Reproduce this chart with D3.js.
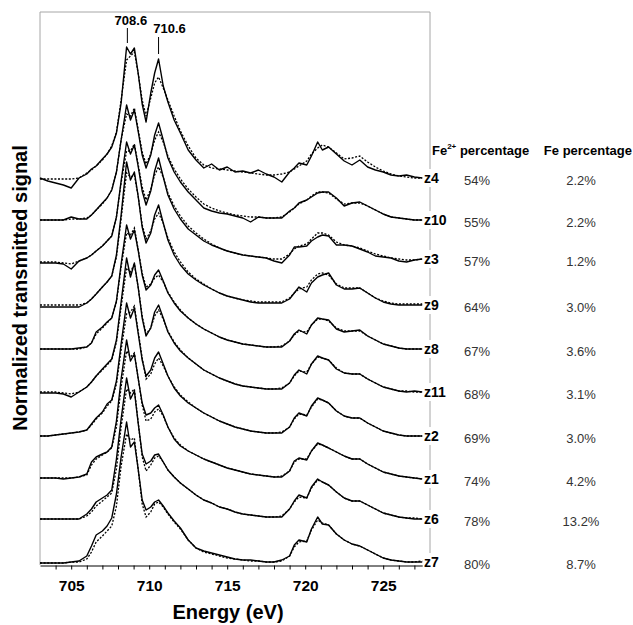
<!DOCTYPE html>
<html>
<head>
<meta charset="utf-8">
<script src="https://cdn.jsdelivr.net/npm/d3@7"></script>
<style>
  body { margin: 0; background: #fff; }
  svg { display: block; font-family: Arial, "Liberation Sans", sans-serif; }
</style>
</head>
<body>
<div class="chart"></div>
<script>
// energy grid (eV)
const energy = [
  703, 703.5, 704, 704.5, 705, 705.5, 706, 706.3, 706.6, 707, 707.3, 707.6, 707.9, 708.2, 708.55,
  708.8, 709.05, 709.3, 709.55, 709.8, 710.1, 710.35, 710.6, 710.9, 711.2, 711.6, 712, 712.5, 713, 713.5,
  714, 714.5, 715, 715.5, 716, 716.5, 717, 717.5, 718, 718.5, 719, 719.3, 719.6, 720.1, 720.4,
  720.8, 721.1, 721.5, 722, 722.5, 723, 723.5, 724, 724.5, 725, 725.5, 726, 726.5, 727, 727.5
];

// spectra: signal above each spectrum's baseline (x0.01 a.u.), measured (solid) and fit (dotted)
const z4Data = [0, -3, -5, -7, -10, 0, 4, 9, 12, 19, 24, 31, 45, 75, 131,
  124, 130, 104, 74, 56, 85, 105, 119, 92, 76, 58, 45, 28, 18, 10,
  14, 8, 11, 6, 7, 5, 8, 4, 1, -4, 6, 10, 15, 13, 22,
  36, 28, 31, 24, 17, 13, 18, 11, 8, 6, 3, 2, 3, 1, 0];
const z4Fit = [-1, -1, -1, -1, -1, 0, 5, 8, 12, 18, 24, 32, 46, 78, 118,
  122, 126, 104, 78, 62, 80, 95, 101, 90, 78, 62, 47, 32, 20, 13,
  10, 9, 8, 7, 6, 5, 4, 3, 3, 4, 6, 9, 12, 17, 24,
  30, 33, 31, 25, 19, 20, 22, 16, 11, 7, 4, 2, 1, 0, 0];

const z10Data = [0, 0, 0, 0, 3, 1, 1, 5, 10, 17, 22, 30, 48, 80, 115,
  100, 110, 88, 65, 52, 65, 85, 97, 80, 62, 48, 38, 28, 20, 12,
  9, 7, 6, 4, 2, -2, 3, 2, 2, 2, 9, 12, 17, 20, 23,
  27, 28, 28, 22, 14, 17, 18, 14, 10, 6, 3, 2, 1, 0, 0];
const z10Fit = [0, 0, 0, 0, 1, 1, 2, 5, 10, 16, 22, 30, 48, 80, 106,
  104, 112, 90, 68, 56, 66, 80, 88, 78, 64, 51, 41, 31, 23, 16,
  12, 9, 7, 5, 4, 3, 3, 2, 2, 3, 8, 12, 16, 20, 24,
  28, 28, 27, 21, 16, 17, 17, 14, 10, 6, 3, 2, 1, 0, 0];

const z3Data = [-4, -4, -4, -5, -10, -2, 1, 4, 8, 13, 18, 23, 42, 78, 117,
  105, 114, 92, 68, 54, 68, 88, 101, 82, 64, 50, 40, 30, 24, 18,
  14, 11, 8, 6, 4, 3, 2, 1, -2, -4, 4, 12, 12, 13, 18,
  22, 24, 23, 14, 14, 13, 10, 7, 3, 2, 1, -2, -3, -1, 0];
const z3Fit = [-3, -3, -3, -4, -5, -2, 1, 4, 8, 13, 18, 23, 42, 76, 108,
  108, 115, 94, 72, 59, 70, 84, 92, 82, 66, 53, 43, 33, 26, 20,
  15, 11, 8, 6, 4, 3, 2, 1, 0, 0, 5, 10, 13, 15, 20,
  26, 26, 24, 17, 14, 13, 11, 8, 5, 3, 1, 0, -1, -1, 0];

const z9Data = [-2, -2, -2, -2, -2, -2, 2, 6, 11, 18, 23, 29, 50, 90, 143,
  125, 133, 108, 78, 62, 72, 90, 100, 82, 65, 50, 40, 31, 25, 20,
  16, 12, 9, 7, 5, 3, 2, 2, 2, 2, 6, 12, 18, 13, 22,
  28, 30, 32, 20, 16, 16, 17, 12, 7, 3, 1, 0, 0, 0, 0];
const z9Fit = [0, 0, 0, 0, 0, 0, 2, 6, 11, 18, 23, 29, 48, 86, 132,
  128, 130, 108, 80, 66, 74, 86, 92, 82, 67, 53, 43, 33, 26, 21,
  16, 12, 9, 7, 5, 4, 3, 3, 3, 3, 7, 12, 16, 18, 25,
  31, 32, 30, 21, 17, 17, 17, 12, 7, 4, 2, 1, 1, 1, 1];

const z8Data = [0, 0, 0, 0, 0, 1, 2, 6, 17, 22, 27, 31, 48, 85, 124,
  110, 119, 98, 74, 59, 64, 74, 79, 68, 56, 46, 38, 31, 25, 20,
  16, 12, 9, 7, 5, 4, 3, 2, 2, 2, 8, 15, 19, 15, 24,
  31, 30, 29, 20, 17, 18, 19, 13, 9, 5, 3, 1, 0, 0, 0];
const z8Fit = [0, 0, 0, 0, 0, 0, 2, 6, 15, 21, 26, 31, 47, 82, 116,
  114, 121, 99, 76, 62, 65, 71, 74, 67, 57, 47, 39, 31, 25, 20,
  16, 12, 9, 7, 5, 4, 3, 2, 2, 3, 8, 14, 18, 17, 24,
  30, 30, 28, 21, 18, 18, 18, 13, 9, 5, 3, 1, 0, 0, 0];

const z11Data = [-1, -1, -1, -2, -5, 0, 5, 10, 16, 23, 28, 33, 52, 90, 134,
  115, 129, 104, 74, 56, 64, 80, 87, 74, 60, 49, 41, 34, 28, 22,
  18, 14, 11, 8, 6, 5, 4, 3, 3, 3, 9, 17, 22, 18, 28,
  36, 34, 32, 23, 19, 18, 18, 13, 9, 5, 3, 1, 0, 1, 0];
const z11Fit = [0, 0, 0, -1, -2, 0, 5, 10, 16, 22, 27, 32, 50, 85, 124,
  120, 128, 104, 76, 58, 64, 76, 82, 73, 61, 50, 42, 34, 28, 22,
  18, 14, 11, 8, 6, 5, 4, 3, 3, 4, 9, 16, 21, 20, 28,
  35, 34, 32, 24, 19, 18, 18, 13, 9, 5, 3, 1, 1, 0, 0];

const z2Data = [0, 0, 1, 2, 3, 4, 6, 12, 18, 24, 32, 36, 55, 92, 133,
  118, 128, 102, 76, 60, 66, 78, 84, 72, 60, 48, 40, 33, 28, 23,
  19, 15, 12, 9, 7, 5, 4, 3, 3, 3, 9, 18, 23, 20, 30,
  38, 36, 33, 25, 20, 18, 18, 13, 9, 5, 3, 1, 0, 0, 0];
const z2Fit = [0, 0, 1, 2, 3, 4, 6, 11, 17, 23, 30, 35, 52, 86, 122,
  124, 130, 104, 78, 57, 62, 72, 78, 70, 60, 49, 41, 34, 28, 23,
  19, 15, 12, 9, 7, 5, 4, 3, 3, 4, 9, 17, 22, 21, 29,
  37, 36, 33, 25, 20, 18, 18, 13, 9, 5, 3, 1, 0, 0, 0];

const z1Data = [1, 1, 1, 0, 1, 2, 5, 17, 22, 25, 27, 32, 58, 100, 139,
  118, 125, 100, 76, 64, 66, 71, 74, 64, 52, 40, 33, 28, 24, 20,
  17, 14, 11, 9, 7, 5, 4, 3, 2, 2, 8, 18, 21, 19, 28,
  36, 34, 31, 27, 23, 20, 20, 15, 11, 7, 5, 3, 2, 1, 0];
const z1Fit = [1, 1, 1, 1, 1, 2, 4, 14, 20, 24, 27, 31, 52, 92, 128,
  122, 126, 100, 74, 58, 60, 67, 70, 63, 52, 41, 34, 28, 24, 20,
  17, 14, 11, 9, 7, 5, 4, 3, 2, 3, 8, 17, 20, 20, 28,
  35, 34, 31, 27, 23, 20, 20, 15, 11, 7, 5, 3, 2, 1, 0];

const z6Data = [0, 0, 0, 0, 0, 0, 5, 10, 17, 21, 24, 29, 60, 100, 141,
  120, 128, 95, 65, 55, 58, 64, 65, 57, 49, 42, 36, 30, 24, 19,
  16, 12, 10, 7, 5, 4, 3, 2, 2, 2, 10, 18, 24, 21, 32,
  40, 37, 34, 27, 21, 18, 18, 14, 10, 6, 4, 2, 1, 0, 0];
const z6Fit = [0, 0, 0, 0, 0, 0, 3, 7, 13, 18, 22, 26, 50, 92, 130,
  126, 130, 96, 62, 48, 54, 61, 63, 57, 49, 42, 36, 30, 24, 19,
  16, 12, 10, 7, 5, 4, 3, 2, 2, 3, 10, 17, 22, 21, 31,
  39, 37, 34, 27, 21, 18, 18, 14, 10, 6, 4, 2, 1, 1, 0];

const z7Data = [-1, -1, -1, -1, 0, 1, 6, 16, 27, 31, 36, 44, 68, 105, 140,
  115, 120, 92, 62, 52, 55, 60, 62, 56, 49, 41, 34, 22, 14, 11,
  9, 7, 5, 3, 2, 2, 1, 0, 0, 2, 6, 17, 22, 20, 33,
  45, 38, 37, 28, 22, 18, 16, 12, 8, 4, 2, 1, 0, 0, 0];
const z7Fit = [-1, -1, -1, -1, 0, 0, 3, 10, 20, 26, 31, 36, 56, 96, 128,
  122, 124, 92, 58, 45, 50, 58, 60, 55, 48, 40, 33, 22, 14, 10,
  8, 6, 4, 3, 2, 1, 1, 0, 0, 1, 6, 15, 20, 21, 32,
  42, 39, 37, 28, 22, 18, 16, 12, 8, 4, 2, 1, 0, 0, 1];

const sampleNames = ['z4', 'z10', 'z3', 'z9', 'z8', 'z11', 'z2', 'z1', 'z6', 'z7'];
const sampleOffsets = [387, 345, 306, 260, 216, 173, 129, 86, 46, 3];
const fe2Percent = ['54%', '55%', '57%', '64%', '67%', '68%', '69%', '74%', '78%', '80%'];
const fePercent = ['2.2%', '2.2%', '1.2%', '3.0%', '3.6%', '3.1%', '3.0%', '4.2%', '13.2%', '8.7%'];
const measured = [z4Data, z10Data, z3Data, z9Data, z8Data, z11Data, z2Data, z1Data, z6Data, z7Data];
const fitted = [z4Fit, z10Fit, z3Fit, z9Fit, z8Fit, z11Fit, z2Fit, z1Fit, z6Fit, z7Fit];

const peakEnergies = [708.6, 710.6];
const tickValues = d3.range(704, 728);

const W = 633, H = 625;
const x = d3.scaleLinear().domain([703, 728]).range([40, 430]);
const y = d3.scaleLinear().domain([0, 553]).range([565, 12]);
const xAxisScale = d3.scaleLinear().domain([703, 727.5]).range([x(703), x(727.5)]);

const svg = d3.select('div.chart')
  .append('svg')
  .attr('width', W)
  .attr('height', H);

// grey plot frame
svg.append('path')
  .attr('d', `M${x(703)},${y(0)} V${y(553)} H${x(728)} V${y(3)}`)
  .attr('fill', 'none')
  .attr('stroke', '#a6a6a6')
  .attr('stroke-width', 1);

const spectra = sampleNames.map((name, i) => ({
  name,
  offset: sampleOffsets[i],
  data: measured[i],
  fit: fitted[i],
  fe2: fe2Percent[i],
  fe: fePercent[i]
}));

const lineFor = offset => d3.line()
  .x((d, i) => x(energy[i]))
  .y(d => y(offset + d));

const groups = svg.selectAll('g.spectrum')
  .data(spectra)
  .enter()
  .append('g')
  .attr('class', 'spectrum');

groups.append('path')
  .attr('d', s => lineFor(s.offset)(s.fit))
  .attr('fill', 'none')
  .attr('stroke', '#000')
  .attr('stroke-width', 1.3)
  .attr('stroke-dasharray', '2,1.6');

groups.append('path')
  .attr('d', s => lineFor(s.offset)(s.data))
  .attr('fill', 'none')
  .attr('stroke', '#000')
  .attr('stroke-width', 1.4)
  .attr('stroke-linejoin', 'round');

// sample labels with white backing over the frame
const labels = groups.append('g')
  .attr('transform', s => `translate(424,${y(s.offset)})`);
labels.append('rect')
  .attr('fill', '#fff');
labels.append('text')
  .attr('dy', '0.36em')
  .attr('font-size', 14)
  .attr('font-weight', 'bold')
  .text(s => s.name);
labels.each(function () {
  const g = d3.select(this);
  const b = g.select('text').node().getBBox();
  g.select('rect')
    .attr('x', b.x - 1).attr('y', b.y - 1)
    .attr('width', b.width + 2).attr('height', b.height + 2);
});

groups.append('text')
  .attr('x', 477)
  .attr('y', s => y(s.offset) + 7)
  .attr('text-anchor', 'middle')
  .attr('font-size', 13)
  .attr('fill', '#333')
  .text(s => s.fe2);

groups.append('text')
  .attr('x', 581)
  .attr('y', s => y(s.offset) + 7)
  .attr('text-anchor', 'middle')
  .attr('font-size', 13)
  .attr('fill', '#333')
  .text(s => s.fe);

// column headers
const head = svg.append('text')
  .attr('x', 432)
  .attr('y', 155)
  .attr('font-size', 13)
  .attr('font-weight', 'bold');
head.append('tspan').text('Fe');
head.append('tspan').attr('dy', -6).attr('font-size', 8).text('2+');
head.append('tspan').attr('dy', 6).text(' percentage');

svg.append('text')
  .attr('x', 632)
  .attr('y', 155)
  .attr('text-anchor', 'end')
  .attr('font-size', 13)
  .attr('font-weight', 'bold')
  .text('Fe percentage');

// peak markers
const peakLabelShift = [3.5, 11];
const peakLabelBase = [25, 33];
const peakLineSpan = [[28, 43], [37, 54]];
peakEnergies.forEach((e, i) => {
  svg.append('line')
    .attr('x1', x(e)).attr('x2', x(e))
    .attr('y1', peakLineSpan[i][0]).attr('y2', peakLineSpan[i][1])
    .attr('stroke', '#000')
    .attr('stroke-width', 1);
  svg.append('text')
    .attr('x', x(e) + peakLabelShift[i])
    .attr('y', peakLabelBase[i])
    .attr('text-anchor', 'middle')
    .attr('font-size', 13)
    .attr('font-weight', 'bold')
    .text(e.toFixed(1));
});

// x axis
const axis = svg.append('g')
  .attr('transform', `translate(0,${y(0) + 0.5})`)
  .call(d3.axisBottom(xAxisScale)
    .tickValues(tickValues)
    .tickFormat(d => d % 5 === 0 ? d : '')
    .tickSize(4)
    .tickSizeOuter(0)
    .tickPadding(10));
axis.selectAll('text')
  .attr('font-size', 15.5)
  .attr('font-weight', 'bold')
  .attr('font-family', 'Arial, "Liberation Sans", sans-serif')
  .attr('fill', '#000');
axis.select('.domain').attr('stroke', '#000');

svg.append('text')
  .attr('x', 228)
  .attr('y', 619)
  .attr('text-anchor', 'middle')
  .attr('font-size', 20)
  .attr('font-weight', 'bold')
  .text('Energy (eV)');

svg.append('text')
  .attr('transform', 'translate(27,288) rotate(-90)')
  .attr('text-anchor', 'middle')
  .attr('font-size', 20)
  .attr('font-weight', 'bold')
  .text('Normalized transmitted signal');
</script>
</body>
</html>
